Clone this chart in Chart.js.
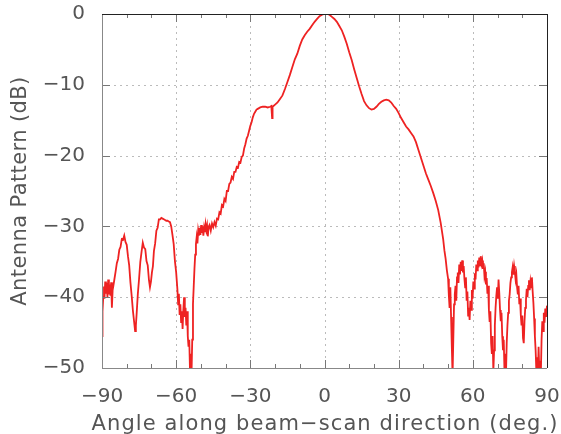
<!DOCTYPE html>
<html>
<head>
<meta charset="utf-8">
<script src="https://cdn.jsdelivr.net/npm/chart.js@4.4.1/dist/chart.umd.min.js"></script>
<style>
  html, body { margin: 0; padding: 0; background: #fff; }
  #wrap { width: 561px; height: 434px; }
</style>
</head>
<body>
<div id="wrap"><canvas id="grafico" width="561" height="434"></canvas></div>
<script>
// angulo (graus) e padrao da antena (dB)
const angulos = [
  -90, -89.8, -89.5, -89.2, -89, -88.7, -88.4, -88.1, -87.8, -87.5, -87.2, -86.9, -86.6, -86.3, -86, -85.7, -85.4, -85,
  -84.5, -84, -83.5, -83, -82.5, -82, -81.5, -81, -80.5, -80, -79.5, -79, -78.5, -78, -77.5, -77, -76.6, -76.3, -76,
  -75.5, -75, -74.5, -74, -73.5, -73, -72.5, -72, -71.5, -71, -70.6, -70.2, -69.8, -69.4, -69, -68.5, -68, -67.5, -67,
  -66.5, -66, -65.5, -65, -64.5, -64, -63.5, -63, -62.5, -62, -61.5, -61, -60.5, -60, -59.5, -59.2, -58.9, -58.6, -58.3,
  -58, -57.7, -57.4, -57.1, -56.8, -56.5, -56.2, -55.9, -55.6, -55.3, -55, -54.7, -54.4, -54.1, -53.8, -53.5, -53.2,
  -52.9, -52.6, -52.3, -52, -51.7, -51.4, -51.1, -50.8, -50.5, -50.2, -49.9, -49.6, -49.3, -49, -48.7, -48.4, -48.1,
  -47.8, -47.5, -47.2, -46.9, -46.5, -46, -45.5, -45, -44.5, -44, -43.5, -43, -42.5, -42, -41.5, -41, -40.5, -40,
  -39.5, -39, -38.5, -38, -37.5, -37, -36.5, -36, -35.5, -35, -34.5, -34, -33.5, -33, -32.5, -32, -31.5, -31, -30.5,
  -30, -29.5, -29, -28.5, -28, -27.5, -27, -26, -25, -24, -23, -22, -21.5, -21.2, -21, -20, -19, -18, -17, -16, -15,
  -14, -13, -12, -11, -10, -9, -8, -7, -6, -5, -4, -3, -2, -1, 0, 1, 2, 3, 4, 5, 6, 7, 8, 9, 10, 11, 12, 13, 14, 15,
  16, 17, 18, 19, 20, 21, 22, 23, 24, 25, 26, 27, 28, 29, 30, 31, 32, 33, 34, 35, 36, 37, 38, 39, 40, 41, 42, 43, 44,
  45, 46, 47, 48, 48.5, 49, 49.5, 50, 50.3, 50.6, 50.9, 51.2, 51.5, 51.8, 52.1, 52.4, 52.7, 53, 53.3, 53.6, 53.9,
  54.2, 54.5, 54.8, 55.1, 55.4, 55.7, 56, 56.3, 56.6, 56.9, 57.2, 57.5, 57.8, 58.1, 58.4, 58.7, 59, 59.3, 59.6, 59.9,
  60.2, 60.5, 60.8, 61.1, 61.4, 61.7, 62, 62.3, 62.6, 62.9, 63.2, 63.5, 63.8, 64.1, 64.4, 64.7, 65, 65.3, 65.6, 65.9,
  66.2, 66.5, 66.8, 67.1, 67.4, 67.7, 68, 68.3, 68.6, 68.9, 69.2, 69.5, 69.8, 70.1, 70.4, 70.7, 71, 71.3, 71.6, 71.9,
  72.2, 72.5, 72.8, 73.1, 73.4, 73.7, 74, 74.3, 74.6, 74.9, 75.2, 75.5, 75.8, 76.1, 76.4, 76.7, 77, 77.3, 77.6, 77.9,
  78.2, 78.5, 78.8, 79.1, 79.4, 79.7, 80, 80.3, 80.6, 80.9, 81.2, 81.5, 81.8, 82.1, 82.4, 82.7, 83, 83.3, 83.6, 83.9,
  84.2, 84.5, 84.8, 85.1, 85.4, 85.7, 86, 86.3, 86.6, 86.9, 87.2, 87.5, 87.8, 88.1, 88.4, 88.7, 89, 89.3, 89.6, 90
];
const padraoDb = [
  -45.5, -42, -40, -38.5, -40.2, -37.8, -39.5, -38, -40, -37.5, -39.6, -38.2, -39.8, -37.9, -41.5, -39, -38.4, -37.5,
  -36.4, -35.2, -34.6, -33.3, -32.9, -31.8, -31.9, -31.3, -32.2, -32.6, -34.2, -35.5, -37.9, -39.8, -41.9, -43.5, -44.8, -44, -42.4,
  -39.5, -37.4, -35, -33.6, -32.3, -33, -33.2, -34.9, -35.5, -37.6, -38.6, -37.8, -36.5, -35.6, -33.5, -32.4, -30.6, -30.2, -29,
  -29, -28.8, -28.9, -29, -29.1, -29.2, -29.2, -29.3, -29.4, -30, -31.2, -32.5, -34.9, -36.5, -38.9, -41, -39.5, -42.5, -41,
  -43.5, -42, -44.5, -41.8, -40, -42.8, -41.5, -44, -42, -45.5, -47, -46, -50.5, -48, -51, -46, -41,
  -38.5, -36, -34, -32.5, -31.5, -32.4, -30.6, -31.3, -30.2, -31.2, -29.8, -30.9, -30, -31.3, -30.2, -30.8, -29.7,
  -30.5, -29.9, -31.4, -30.1, -29.8, -30.6, -29.6, -30.1, -29.4, -29.9, -28.9, -29, -28, -28.2, -27, -27.2, -26.1, -26.4,
  -25, -25, -24, -23.8, -23, -23.3, -22.3, -22.3, -21.6, -21.7, -20.9, -21, -20.2, -20, -19, -18.4, -17.6, -17.2, -16.5,
  -15.8, -15.3, -14.6, -14.1, -13.8, -13.5, -13.4, -13.2, -13.1, -13.1, -13.2, -13.1, -13, -14.7, -13.1, -12.8, -12.5, -12, -11.5, -10.6, -9.6,
  -8.6, -7.5, -6.4, -5.6, -4.5, -3.6, -3, -2.5, -2.1, -1.6, -1.1, -0.7, -0.3, -0.1, 0, 0, -0.1, -0.4, -0.7, -1.1, -1.7, -2.3, -3.2, -4.2, -5.4, -6.5, -7.8, -9, -10.2, -11.3,
  -12.3, -12.9, -13.3, -13.5, -13.4, -13.1, -12.7, -12.4, -12.2, -12.1, -12.2, -12.5, -13, -13.4, -14, -14.7, -15.3, -15.9, -16.3, -16.8, -17.3, -18.1, -19.2, -20.3, -21.4, -22.5, -23.4, -24.3, -25.3,
  -26.4, -27.7, -29.5, -31.8, -33.4, -34.6, -36.2, -37.4, -39.8, -41.5, -38.6, -42.8, -47, -51, -46, -41, -39.6, -38.4, -40.5, -37.2, -36.5,
  -38, -35.4, -36.8, -35, -36.3, -34.8, -36.5, -35.6, -37.4, -38.6, -37.2, -40.5, -39.2, -42.6, -41.5, -43.2, -40.5, -41.8, -39, -40.2,
  -37.8, -38.8, -36.6, -37.5, -35.4, -36.2, -34.8, -35.8, -34.4, -35.5, -34.2, -35.3, -34.8, -36, -35.2, -37, -36.4, -38.2, -37.3, -39.5,
  -38.4, -41.8, -43.5, -42, -46.5, -48, -45.5, -50.5, -47.5, -44, -41.5, -39.8, -38.6, -40.2, -37.5, -39.4, -41.8, -43.4, -42.2, -45.5,
  -47.5, -46, -50.5, -48, -51, -46.5, -44, -42.2, -40.5, -39.6, -38, -37.2, -36.5, -35.8, -36.8, -35.6, -36.4, -37.5, -36.8, -38.6,
  -39.6, -38.4, -41, -40.2, -42.5, -44, -42.6, -45.8, -46.5, -43.4, -41.5, -40.4, -38.8, -40, -38.4, -37.6, -39, -37.8, -38.6, -37.2,
  -39.2, -40.8, -43, -45.5, -47.5, -50.5, -48.5, -51, -47, -50.5, -49, -51, -46, -43.4, -44.8, -42.2, -43.6, -41.6, -42.8, -41.2
];

const ticksX = [-90, -60, -30, 0, 30, 60, 90];
const ticksY = [-50, -40, -30, -20, -10, 0];
const ticksXMenores = [-80, -70, -50, -40, -20, -10, 10, 20, 40, 50, 70, 80];
const tituloX = 'Angle along beam\u2212scan direction (deg.)';
const tituloY = 'Antenna Pattern (dB)';

const fonte = '"DejaVu Sans", sans-serif';
const corTexto = '#555';
const menos = s => String(s).replace('-', '\u2212');

// grade pontilhada + moldura com marcas para dentro + titulos dos eixos
const molduraPlugin = {
    id: 'moldura',
    beforeDatasetsDraw(chart) {
        const { ctx, chartArea: a, scales: { x, y } } = chart;
        ctx.save();
        ctx.strokeStyle = '#bbb';
        ctx.lineWidth = 1;
        ctx.setLineDash([2, 4]);
        ticksX.slice(1, -1).forEach(v => {
            const px = Math.round(x.getPixelForValue(v)) + 0.5;
            ctx.beginPath(); ctx.moveTo(px, a.top); ctx.lineTo(px, a.bottom); ctx.stroke();
        });
        ticksY.slice(1, -1).forEach(v => {
            const py = Math.round(y.getPixelForValue(v)) + 0.5;
            ctx.beginPath(); ctx.moveTo(a.left, py); ctx.lineTo(a.right, py); ctx.stroke();
        });
        ctx.restore();
    },
    afterDatasetsDraw(chart) {
        const { ctx, chartArea: a, scales: { x, y } } = chart;
        ctx.save();
        ctx.lineWidth = 1;
        ctx.strokeStyle = '#777';
        const linha = (x1, y1, x2, y2) => { ctx.beginPath(); ctx.moveTo(x1, y1); ctx.lineTo(x2, y2); ctx.stroke(); };
        ticksX.forEach(v => {
            const px = Math.round(x.getPixelForValue(v)) + 0.5;
            linha(px, a.bottom, px, a.bottom - 8);
            linha(px, a.top, px, a.top + 8);
        });
        ticksXMenores.forEach(v => {
            const px = Math.round(x.getPixelForValue(v)) + 0.5;
            linha(px, a.bottom, px, a.bottom - 4);
            linha(px, a.top, px, a.top + 4);
        });
        ticksY.forEach(v => {
            const py = Math.round(y.getPixelForValue(v)) + 0.5;
            linha(a.left, py, a.left + 8, py);
            linha(a.right, py, a.right - 8, py);
        });
        ctx.strokeStyle = '#888';
        linha(a.left + 0.5, a.top, a.left + 0.5, a.bottom);
        linha(a.left, a.bottom + 0.5, a.right, a.bottom + 0.5);
        ctx.strokeStyle = '#222';
        linha(a.left, a.top + 0.5, a.right, a.top + 0.5);
        linha(a.right + 0.5, a.top, a.right + 0.5, a.bottom);

        // titulos (fonte larga como no original -> espacamento entre letras)
        ctx.fillStyle = corTexto;
        ctx.font = '21px ' + fonte;
        ctx.textAlign = 'center';
        ctx.textBaseline = 'middle';
        ctx.letterSpacing = '1.1px';
        ctx.fillText(tituloX, 325, 425);
        ctx.letterSpacing = '0.4px';
        ctx.translate(21, (a.top + a.bottom) / 2);
        ctx.rotate(-Math.PI / 2);
        ctx.fillText(tituloY, 0, 0);
        ctx.restore();
    }
};

const semSobra = s => { s.paddingLeft = 0; s.paddingRight = 0; s.paddingTop = 0; s.paddingBottom = 0; };

const ctx = document.getElementById('grafico').getContext('2d');
new Chart(ctx, {
    type: 'line',
    data: {
        datasets: [{
            data: angulos.map((a, i) => ({ x: a, y: padraoDb[i] })),
            borderColor: '#ee2222',
            borderWidth: 1.8,
            pointRadius: 0,
            tension: 0,
            clip: 0
        }]
    },
    options: {
        responsive: false,
        animation: false,
        layout: { padding: { left: 0, right: 14, top: 14, bottom: 0 } },
        plugins: { legend: { display: false }, tooltip: { enabled: false } },
        scales: {
            x: {
                type: 'linear',
                min: -90, max: 90,
                afterFit: s => { s.height = 66; semSobra(s); },
                afterBuildTicks: s => { s.ticks = ticksX.map(v => ({ value: v })); },
                grid: { display: false },
                border: { display: false },
                ticks: {
                    padding: 9,
                    color: corTexto,
                    font: { family: fonte, size: 20 },
                    maxRotation: 0,
                    callback: v => menos(v)
                }
            },
            y: {
                min: -50, max: 0,
                afterFit: s => { s.width = 102; semSobra(s); },
                afterBuildTicks: s => { s.ticks = ticksY.map(v => ({ value: v })); },
                grid: { display: false },
                border: { display: false },
                ticks: {
                    padding: 9,
                    color: corTexto,
                    font: { family: fonte, size: 20 },
                    callback: v => menos(v)
                }
            }
        }
    },
    plugins: [molduraPlugin]
});
</script>
</body>
</html>
